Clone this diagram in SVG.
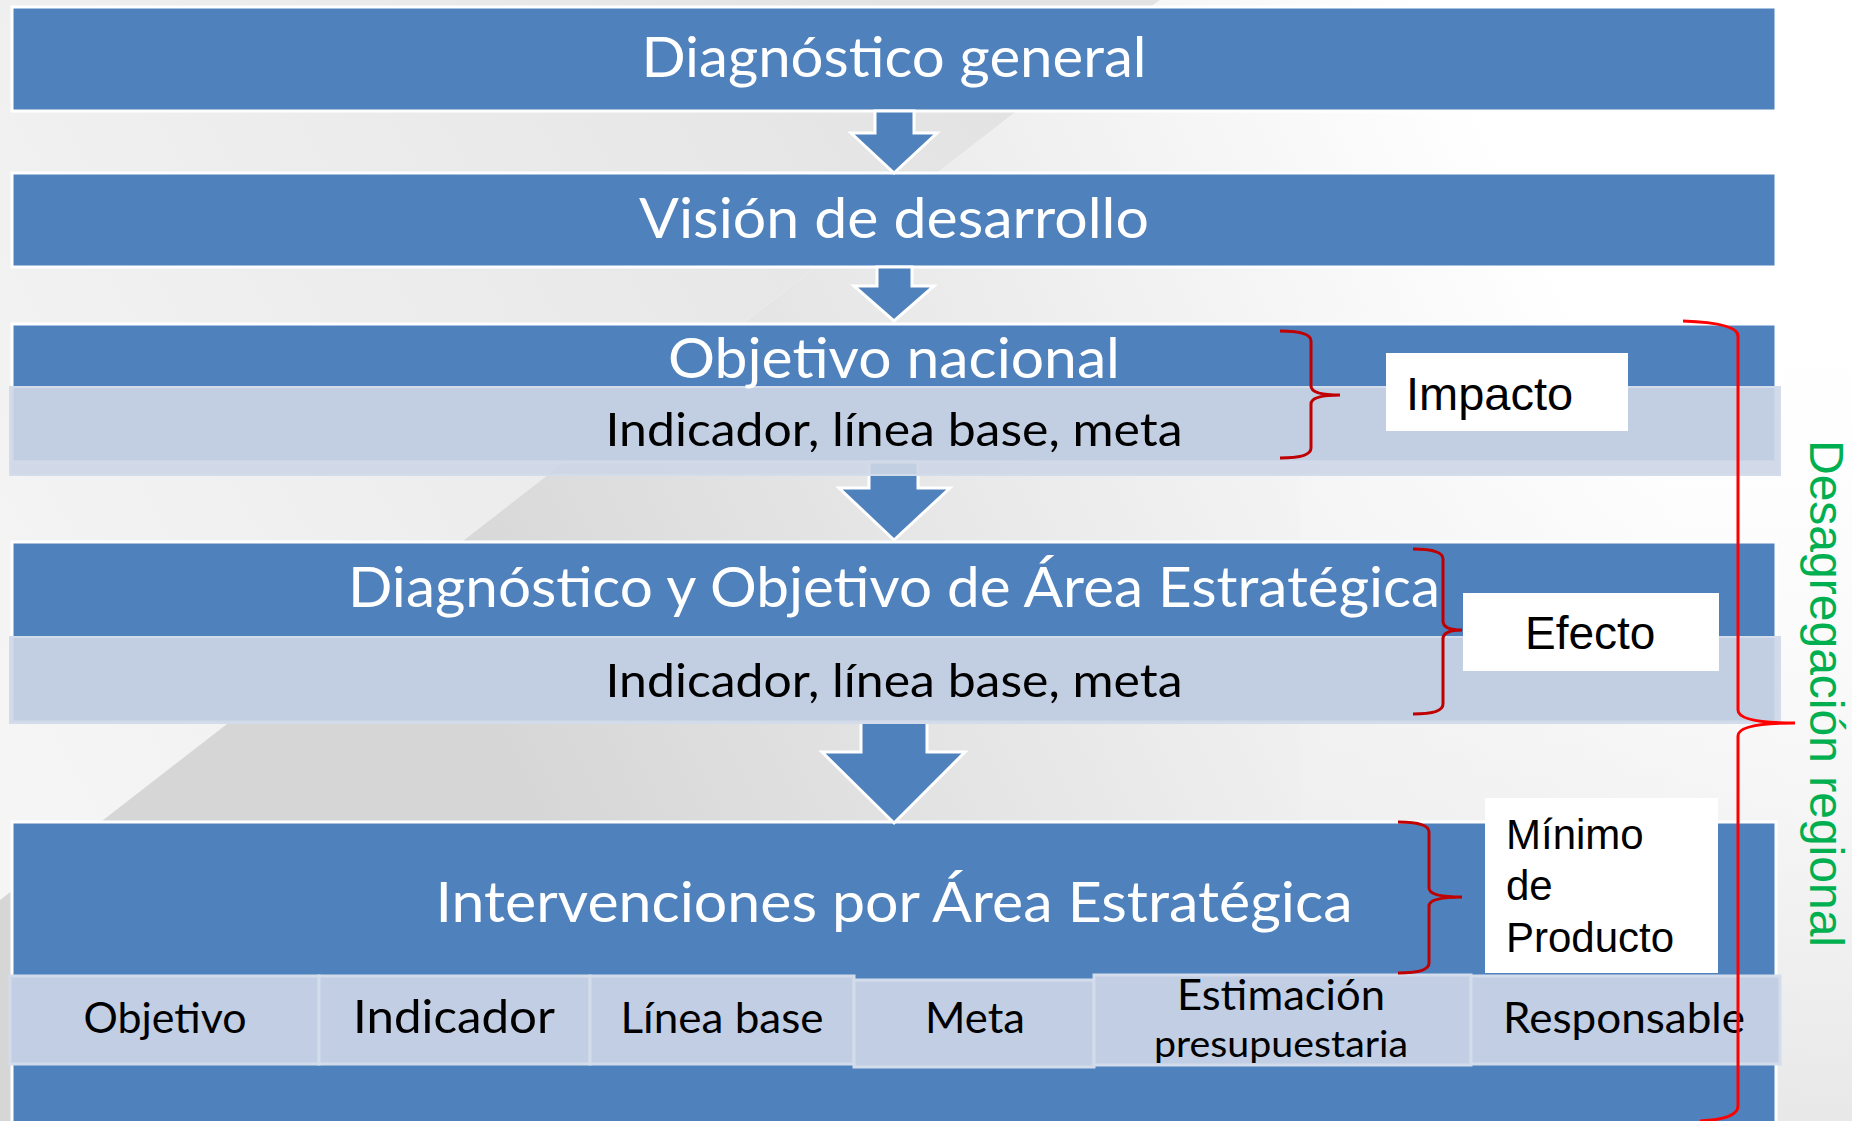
<svg xmlns="http://www.w3.org/2000/svg" width="1852" height="1121" viewBox="0 0 1852 1121">
<defs>
<linearGradient id="gUL" gradientUnits="userSpaceOnUse" x1="0" y1="700" x2="1000" y2="100">
<stop offset="0" stop-color="#F5F5F5"/><stop offset="1" stop-color="#E3E3E3"/>
</linearGradient>
<linearGradient id="gLR" gradientUnits="userSpaceOnUse" x1="450" y1="650" x2="1500" y2="150">
<stop offset="0" stop-color="#D6D6D6"/><stop offset="1" stop-color="#FFFFFF"/>
</linearGradient>
<linearGradient id="gRM" gradientUnits="userSpaceOnUse" x1="0" y1="250" x2="0" y2="1121">
<stop offset="0" stop-color="#FFFFFF" stop-opacity="0"/><stop offset="1" stop-color="#E8E8E8" stop-opacity="1"/>
</linearGradient>
<style>
.box{fill:#4F81BD;stroke:#FFFFFF;stroke-width:3}
.band{fill:#CDD6E7;fill-opacity:0.91;stroke:#D3DCEB;stroke-width:2}
.cellr{fill:#C2CEE3;stroke:#D3DCEB;stroke-width:3}
.arrow{fill:#4F81BD;stroke:#FFFFFF;stroke-width:3;stroke-linejoin:miter}
.title{font-family:Lato,"Open Sans","Noto Sans",sans-serif;font-size:56px;fill:#FFFFFF;text-anchor:middle}
.sub{font-family:Lato,"Open Sans","Noto Sans",sans-serif;font-size:47px;fill:#000000;text-anchor:middle}
.cell{font-family:Lato,"Open Sans","Noto Sans",sans-serif;font-size:42px;fill:#000000;text-anchor:middle}
.lbl{font-family:"Liberation Sans",Arial,sans-serif;fill:#000000}
.lbox{fill:#FFFFFF}
.brace{fill:none;stroke:#C00000;stroke-width:3}
.bigbrace{fill:none;stroke:#FF0000;stroke-width:3}
</style>
</defs>

<g id="background">
<rect x="0" y="0" width="1852" height="1121" fill="#FFFFFF"/>
<polygon points="0,0 1160,0 0,900" fill="url(#gUL)"/>
<polygon points="1160,0 1852,0 1852,1121 0,1121 0,900" fill="url(#gLR)"/>
<rect x="1300" y="250" width="552" height="871" fill="url(#gRM)"/>
</g>

<g id="node-diagnostico-general">
<rect class="box" x="12" y="7" width="1764" height="104"/>
</g>
<g id="node-vision">
<rect class="box" x="12" y="173" width="1764" height="94"/>
</g>
<g id="node-objetivo-nacional-bg">
<rect class="box" x="12" y="324" width="1764" height="138"/>
</g>
<g id="node-area-estrategica-bg">
<rect class="box" x="12" y="542" width="1764" height="180"/>
</g>
<g id="node-intervenciones-bg">
<rect class="box" x="12" y="822" width="1764" height="310"/>
</g>

<g id="connectors">
<path class="arrow" d="M875,111 L875,133 L851,133 L894,173 L937,133 L914,133 L914,111 Z"/>
<path class="arrow" d="M877,267 L877,286 L854,286 L894,321 L934,286 L912,286 L912,267 Z"/>
<path class="arrow" d="M869,462 L869,488 L839,488 L894,540 L950,488 L918,488 L918,462 Z"/>
<path class="arrow" d="M861,722 L861,752 L822,752 L894,823 L965,752 L927,752 L927,722 Z"/>
</g>

<g id="node-objetivo-nacional">
<rect class="band" x="10" y="387" width="1770" height="88"/>
<text class="title" x="894" y="378" textLength="452" lengthAdjust="spacingAndGlyphs">Objetivo nacional</text>
<text class="sub" x="894" y="446" textLength="577" lengthAdjust="spacingAndGlyphs">Indicador, línea base, meta</text>
</g>

<g id="node-area-estrategica">
<rect class="band" x="10" y="637" width="1770" height="86"/>
<text class="title" x="894" y="607" textLength="1092" lengthAdjust="spacingAndGlyphs">Diagnóstico y Objetivo de Área Estratégica</text>
<text class="sub" x="894" y="697" textLength="577" lengthAdjust="spacingAndGlyphs">Indicador, línea base, meta</text>
</g>

<g id="node-diagnostico-general-text">
<text class="title" x="894" y="77" textLength="505" lengthAdjust="spacingAndGlyphs">Diagnóstico general</text>
</g>
<g id="node-vision-text">
<text class="title" x="894" y="238" textLength="510" lengthAdjust="spacingAndGlyphs">Visión de desarrollo</text>
</g>

<g id="node-intervenciones">
<text class="title" x="894" y="922" textLength="917" lengthAdjust="spacingAndGlyphs">Intervenciones por Área Estratégica</text>
<g id="cell-objetivo">
<rect class="cellr" x="10" y="976" width="309" height="88"/>
<text class="cell" x="165" y="1033" textLength="163" lengthAdjust="spacingAndGlyphs">Objetivo</text>
</g>
<g id="cell-indicador">
<rect class="cellr" x="319" y="976" width="271" height="88"/>
<text class="cell" x="454" y="1033" style="font-size:47px" textLength="202" lengthAdjust="spacingAndGlyphs">Indicador</text>
</g>
<g id="cell-linea-base">
<rect class="cellr" x="590" y="976" width="264" height="88"/>
<text class="cell" x="722" y="1033" textLength="203" lengthAdjust="spacingAndGlyphs">Línea base</text>
</g>
<g id="cell-meta">
<rect class="cellr" x="854" y="980" width="240" height="87"/>
<text class="cell" x="975" y="1033" textLength="100" lengthAdjust="spacingAndGlyphs">Meta</text>
</g>
<g id="cell-estimacion">
<rect class="cellr" x="1094" y="975" width="377" height="90"/>
<text class="cell" x="1281" y="1010" textLength="208" lengthAdjust="spacingAndGlyphs">Estimación</text>
<text class="cell" x="1281" y="1057" style="font-size:37px" textLength="254" lengthAdjust="spacingAndGlyphs">presupuestaria</text>
</g>
<g id="cell-responsable">
<rect class="cellr" x="1471" y="976" width="309" height="88"/>
<text class="cell" x="1624" y="1033" textLength="242" lengthAdjust="spacingAndGlyphs">Responsable</text>
</g>
</g>

<g id="label-impacto">
<rect class="lbox" x="1386" y="353" width="242" height="78"/>
<text class="lbl" x="1406" y="410" font-size="47">Impacto</text>
</g>
<g id="label-efecto">
<rect class="lbox" x="1463" y="593" width="256" height="78"/>
<text class="lbl" x="1525" y="649" font-size="46">Efecto</text>
</g>
<g id="label-minimo">
<rect class="lbox" x="1485" y="798" width="233" height="175"/>
<text class="lbl" x="1506" y="849" font-size="42">Mínimo</text>
<text class="lbl" x="1506" y="900" font-size="42">de</text>
<text class="lbl" x="1506" y="952" font-size="42">Producto</text>
</g>

<g id="braces">
<path class="brace" d="M1280,331 Q1311,331 1311,341 L1311,386 Q1311,395 1340,395 Q1311,395 1311,404 L1311,448 Q1311,458 1280,458"/>
<path class="brace" d="M1413,549 Q1443,549 1443,559 L1443,621 Q1443,630 1462,630 Q1443,630 1443,639 L1443,704 Q1443,714 1413,714"/>
<path class="brace" d="M1398,822 Q1429,822 1429,832 L1429,888 Q1429,897 1462,897 Q1429,897 1429,906 L1429,963 Q1429,973 1398,973"/>
<path class="bigbrace" d="M1683,321 Q1738,323 1738,336 L1738,710 Q1738,723 1795,723 Q1738,723 1738,736 L1738,1106 Q1738,1119 1700,1121"/>
</g>

<g id="label-desagregacion">
<text class="lbl" transform="translate(1810,440) rotate(90)" x="0" y="0" font-size="48" style="fill:#00B050">Desagregación regional</text>
</g>
</svg>
